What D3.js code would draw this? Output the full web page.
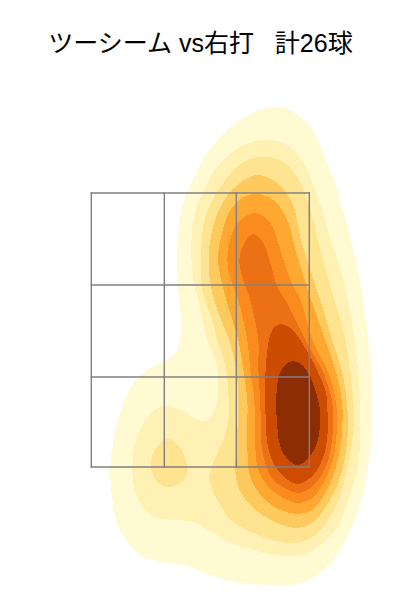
<!DOCTYPE html>
<html>
<head>
<meta charset="utf-8">
<script src="https://d3js.org/d3.v7.min.js"></script>
<style>
  body { margin: 0; background: #fff; }
  text { font-family: "Liberation Sans", "Noto Sans CJK JP", sans-serif; }
</style>
</head>
<body>
<div class="chart"></div>
<script>
var svgWidth = 400;
var svgHeight = 600;

var titleText = "ツーシーム vs右打\u00a0\u00a0\u00a0計26球";

// strike zone lines, 0 = lower left corner of the zone
var zoneX = [0, 73, 145, 218];
var zoneY = [0, 90, 182, 274];

// density bands, lightest first
var band1 = [[182,360],[202,355],[219,340],[232,314],[246,277],[259,230],[269,184],[276,137],[280,97],[281,60],[280,27],[277,4],[271,-30],[259,-63],[242,-93],[226,-108],[206,-117],[182,-118],[159,-117],[142,-115],[119,-108],[96,-99],[72,-95],[52,-90],[39,-78],[27,-60],[21,-33],[19,-3],[22,27],[32,64],[46,89],[59,99],[74,106],[84,114],[89,127],[90,142],[87,177],[86,217],[91,260],[106,297],[126,327],[152,349]];
var band2 = [[177,327],[196,322],[212,304],[224,277],[239,230],[252,187],[261,142],[267,97],[269,47],[267,4],[257,-33],[246,-60],[229,-78],[212,-88],[196,-89],[172,-86],[156,-81],[142,-77],[122,-66],[102,-55],[86,-53],[66,-51],[52,-41],[44,-26],[41,-3],[44,24],[52,44],[66,59],[77,61],[92,56],[109,46],[119,49],[126,67],[127,87],[124,107],[116,127],[107,167],[102,187],[100,217],[103,252],[116,284],[129,304],[152,322]];
var band3 = [[171,310],[189,307],[206,290],[217,264],[229,217],[243,167],[252,137],[258,102],[262,67],[262,37],[256,-3],[246,-36],[232,-60],[216,-73],[196,-76],[172,-70],[156,-63],[139,-53],[132,-43],[121,-23],[118,-10],[122,4],[136,40],[137,77],[132,110],[126,127],[121,147],[111,177],[110,217],[114,250],[129,280],[152,305]];
var band3Low = [[76,28],[89,19],[96,0],[96,-6],[89,-16],[76,-20],[67,-16],[61,-6],[60,-1],[62,14]];
var band4 = [[166,292],[186,284],[201,264],[209,230],[219,197],[229,167],[241,127],[252,90],[256,60],[256,27],[249,-10],[237,-36],[222,-55],[207,-61],[186,-56],[162,-41],[149,-25],[144,-6],[145,20],[147,57],[145,97],[138,127],[126,157],[118,190],[119,227],[129,260],[146,282]];
var band5 = [[161,273],[182,267],[196,247],[205,214],[220,167],[234,127],[246,90],[251,62],[251,40],[250,27],[244,-3],[234,-26],[221,-43],[207,-47],[189,-43],[171,-30],[159,-10],[156,20],[156,67],[152,97],[147,127],[135,167],[127,204],[129,227],[141,260]];
var band6 = [[164,254],[179,244],[189,217],[199,187],[210,165],[221,127],[239,90],[245,62],[246,45],[245,30],[241,4],[232,-16],[221,-31],[207,-36],[192,-31],[177,-20],[167,-3],[164,20],[163,67],[159,97],[156,127],[147,167],[137,197],[137,217],[146,244]];
var band7 = [[162,233],[172,224],[179,204],[186,180],[194,167],[214,127],[234,90],[241,64],[242,47],[241,30],[237,7],[229,-10],[219,-21],[207,-26],[196,-22],[182,-13],[174,4],[170,24],[169,67],[167,97],[167,127],[159,167],[152,187],[148,204],[151,220]];
var band8 = [[189,143],[199,139],[211,124],[222,104],[234,77],[236,60],[236,30],[232,10],[222,-8],[207,-17],[194,-11],[182,4],[176,24],[174,67],[174,90],[176,117],[181,137]];
var band9 = [[201,106],[211,102],[219,90],[226,70],[229,54],[228,35],[225,22],[217,9],[207,2],[197,7],[189,20],[186,40],[185,70],[187,89],[192,100]];

var bands = [band1, band2, band3, band3Low, band4, band5, band6, band7, band8, band9];
var bandColors = ["#fffad2", "#fff1b3", "#fee391", "#fee391", "#fec95d", "#fea832", "#f98b1f", "#ec7014", "#cc4c02", "#8c2d04"];

var xScale = d3.scaleLinear().domain([0, 218]).range([91.3, 309.3]);
var yScale = d3.scaleLinear().domain([0, 274]).range([467, 193]);

var svg = d3
  .select(".chart")
  .append("svg")
  .attr("width", svgWidth)
  .attr("height", svgHeight);

var ring = d3
  .line()
  .x(function(d) { return xScale(d[0]); })
  .y(function(d) { return yScale(d[1]); })
  .curve(d3.curveCatmullRomClosed.alpha(0.5));

svg
  .selectAll("path.band")
  .data(bands)
  .enter()
  .append("path")
  .attr("class", "band")
  .attr("d", ring)
  .attr("fill", function(d, i) { return bandColors[i]; })
  .attr("shape-rendering", "crispEdges");

svg
  .selectAll("line.zone-x")
  .data(zoneX)
  .enter()
  .append("line")
  .attr("class", "zone-x")
  .attr("x1", function(d) { return xScale(d); })
  .attr("x2", function(d) { return xScale(d); })
  .attr("y1", yScale(0))
  .attr("y2", yScale(274))
  .attr("stroke", "#808080")
  .attr("stroke-width", 1.4)
  .attr("stroke-linecap", "square");

svg
  .selectAll("line.zone-y")
  .data(zoneY)
  .enter()
  .append("line")
  .attr("class", "zone-y")
  .attr("x1", xScale(0))
  .attr("x2", xScale(218))
  .attr("y1", function(d) { return yScale(d); })
  .attr("y2", function(d) { return yScale(d); })
  .attr("stroke", "#808080")
  .attr("stroke-width", 1.4)
  .attr("stroke-linecap", "square");

svg
  .append("text")
  .attr("x", 200.5)
  .attr("y", 52)
  .attr("text-anchor", "middle")
  .attr("font-size", 25)
  .attr("fill", "#000")
  .text(titleText);
</script>
</body>
</html>
